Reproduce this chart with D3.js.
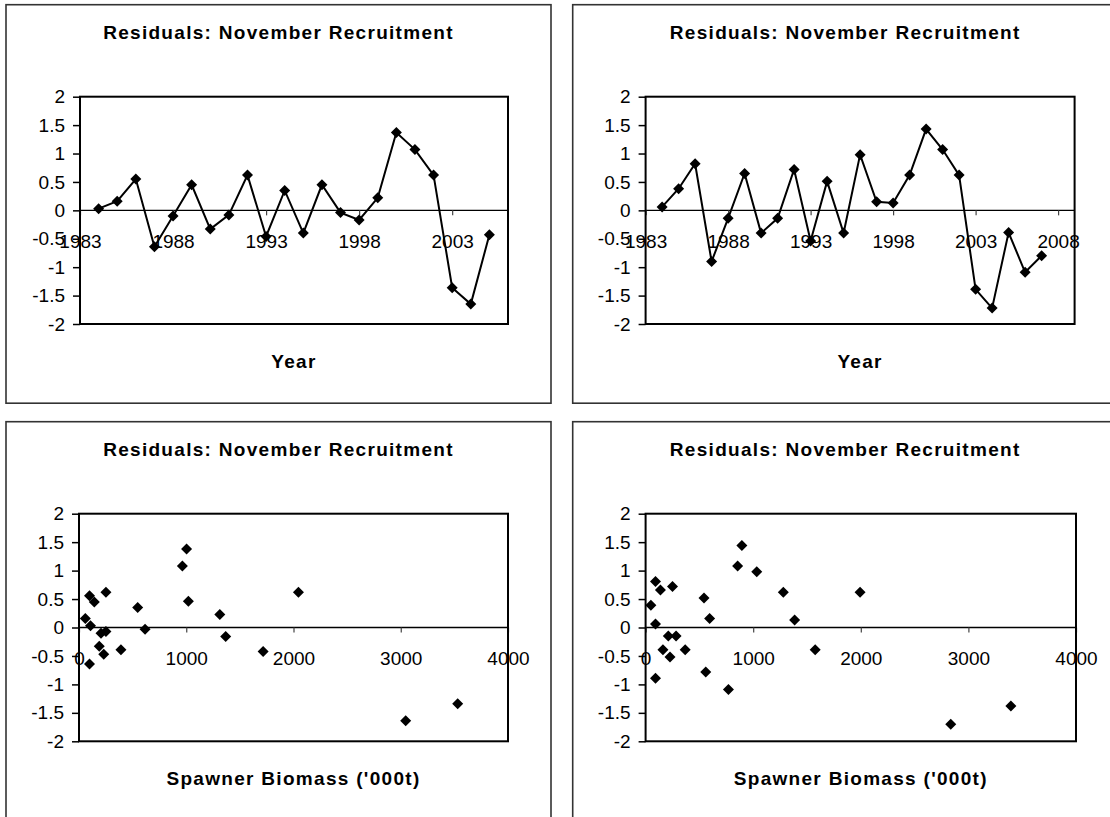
<!DOCTYPE html>
<html><head><meta charset="utf-8">
<script src="https://cdn.jsdelivr.net/npm/d3@7"></script>
<style>
html,body{margin:0;padding:0;background:#fff;}
svg{display:block;}
text{font-family:"Liberation Sans",Arial,sans-serif;fill:#000;}
</style></head>
<body>
<svg id="c" width="1110" height="817"></svg>
<script>
// ---- data ----
const chartTitle = "Residuals: November Recruitment";
const yTicks = [-2, -1.5, -1, -0.5, 0, 0.5, 1, 1.5, 2];

const yearsA = [1984,1985,1986,1987,1988,1989,1990,1991,1992,1993,1994,1995,1996,1997,1998,1999,2000,2001,2002,2003,2004,2005];
const residA = [0.03,0.16,0.55,-0.64,-0.10,0.45,-0.33,-0.08,0.62,-0.46,0.35,-0.40,0.45,-0.04,-0.17,0.22,1.37,1.07,0.62,-1.36,-1.65,-0.43];
const yearTicksA = [1983,1988,1993,1998,2003];

const yearsB = [1984,1985,1986,1987,1988,1989,1990,1991,1992,1993,1994,1995,1996,1997,1998,1999,2000,2001,2002,2003,2004,2005,2006,2007];
const residB = [0.06,0.38,0.82,-0.90,-0.14,0.65,-0.40,-0.14,0.72,-0.54,0.51,-0.40,0.98,0.15,0.13,0.62,1.43,1.07,0.62,-1.39,-1.72,-0.39,-1.09,-0.80];
const yearTicksB = [1983,1988,1993,1998,2003,2008];

const biomassC = [59,98,107,98,143,189,205,231,251,251,391,547,616,964,1003,1020,1313,1368,1717,2046,3046,3531];
const residC   = [0.16,0.56,0.03,-0.64,0.45,-0.33,-0.10,-0.47,-0.07,0.62,-0.39,0.35,-0.03,1.08,1.38,0.46,0.23,-0.16,-0.42,0.62,-1.64,-1.34];

const biomassD = [49,92,92,92,138,161,211,227,250,283,368,543,559,595,770,855,895,1033,1280,1385,1576,1993,2836,3395];
const residD   = [0.39,0.81,0.06,-0.89,0.66,-0.39,-0.15,-0.52,0.72,-0.15,-0.39,0.52,-0.78,0.16,-1.09,1.08,1.44,0.98,0.62,0.13,-0.39,0.62,-1.70,-1.38];
const biomassTicks = [0,1000,2000,3000,4000];

const xTitleYear = "Year";
const xTitleBiomass = "Spawner Biomass ('000t)";

// ---- drawing ----
const svg = d3.select("#c");
const diamond = "M0,-5.5L5.5,0L0,5.5L-5.5,0Z";

function panel(cfg){
  const g = svg.append("g");
  // panel frame
  g.append("rect").attr("x",cfg.px).attr("y",cfg.py).attr("width",cfg.pw).attr("height",cfg.ph)
    .attr("fill","#fff").attr("stroke","#333").attr("stroke-width",1.6);
  const x = d3.scaleLinear().domain(cfg.xDomain).range([cfg.l, cfg.r]);
  const y = d3.scaleLinear().domain([-2,2]).range([cfg.b, cfg.t]);

  // title
  g.append("text").attr("x", cfg.px + cfg.pw/2).attr("y", cfg.py + 34)
    .attr("text-anchor","middle").attr("font-size",19).attr("font-weight","bold")
    .attr("letter-spacing","1.3px").text(chartTitle);

  // zero line
  g.append("line").attr("x1",cfg.l).attr("x2",cfg.r).attr("y1",y(0)).attr("y2",y(0))
    .attr("stroke","#000").attr("stroke-width",1.3);

  // y axis
  const ya = g.append("g").attr("transform",`translate(${cfg.l},0)`)
    .call(d3.axisLeft(y).tickValues(yTicks).tickSize(7).tickPadding(8).tickFormat(d=>String(d)));
  ya.select(".domain").remove();
  ya.selectAll("line").attr("stroke","#000").attr("stroke-width",1.5);
  ya.selectAll("text").attr("font-size",19).attr("font-family","'Liberation Sans',Arial,sans-serif");

  // x axis at zero
  const xa = g.append("g").attr("transform",`translate(0,${y(0)})`)
    .call(d3.axisBottom(x).tickValues(cfg.xTicks).tickSize(5).tickPadding(19).tickFormat(d=>String(d)));
  xa.select(".domain").remove();
  xa.selectAll("line").attr("stroke","#444").attr("stroke-width",1.2);
  xa.selectAll("text").attr("font-size",19).attr("font-family","'Liberation Sans',Arial,sans-serif");

  // plot border
  g.append("rect").attr("x",cfg.l).attr("y",cfg.t).attr("width",cfg.r-cfg.l).attr("height",cfg.b-cfg.t)
    .attr("fill","none").attr("stroke","#000").attr("stroke-width",2);

  const pts = cfg.xs.map((v,i)=>[v, cfg.ys[i]]);
  if(cfg.line){
    g.append("path").datum(pts)
      .attr("d", d3.line().x(d=>x(d[0])).y(d=>y(d[1])))
      .attr("fill","none").attr("stroke","#000").attr("stroke-width",2);
  }
  g.selectAll("path.m").data(pts).join("path").attr("class","m")
    .attr("d",diamond).attr("transform",d=>`translate(${x(d[0])},${y(d[1])})`)
    .attr("fill","#000");

  // axis title
  g.append("text").attr("x",(cfg.l+cfg.r)/2).attr("y",cfg.b + 44)
    .attr("text-anchor","middle").attr("font-size",19).attr("font-weight","bold")
    .attr("letter-spacing","1.3px").text(cfg.xTitle);
}

panel({px:6,py:4.7,pw:545,ph:398.5,l:80,r:508,t:96.7,b:324,
  xDomain:[1983,2006],xTicks:yearTicksA,xs:yearsA,ys:residA,line:true,xTitle:xTitleYear});
panel({px:572.7,py:4.7,pw:545,ph:398.5,l:645.6,r:1074.6,t:96.7,b:324,
  xDomain:[1983,2009],xTicks:yearTicksB,xs:yearsB,ys:residB,line:true,xTitle:xTitleYear});
panel({px:6,py:421.7,pw:545,ph:398.5,l:79,r:508,t:513.7,b:741.3,
  xDomain:[0,4000],xTicks:biomassTicks,xs:biomassC,ys:residC,line:false,xTitle:xTitleBiomass});
panel({px:572.7,py:421.7,pw:545,ph:398.5,l:645.6,r:1076,t:513.7,b:741.3,
  xDomain:[0,4000],xTicks:biomassTicks,xs:biomassD,ys:residD,line:false,xTitle:xTitleBiomass});
</script>
</body></html>
